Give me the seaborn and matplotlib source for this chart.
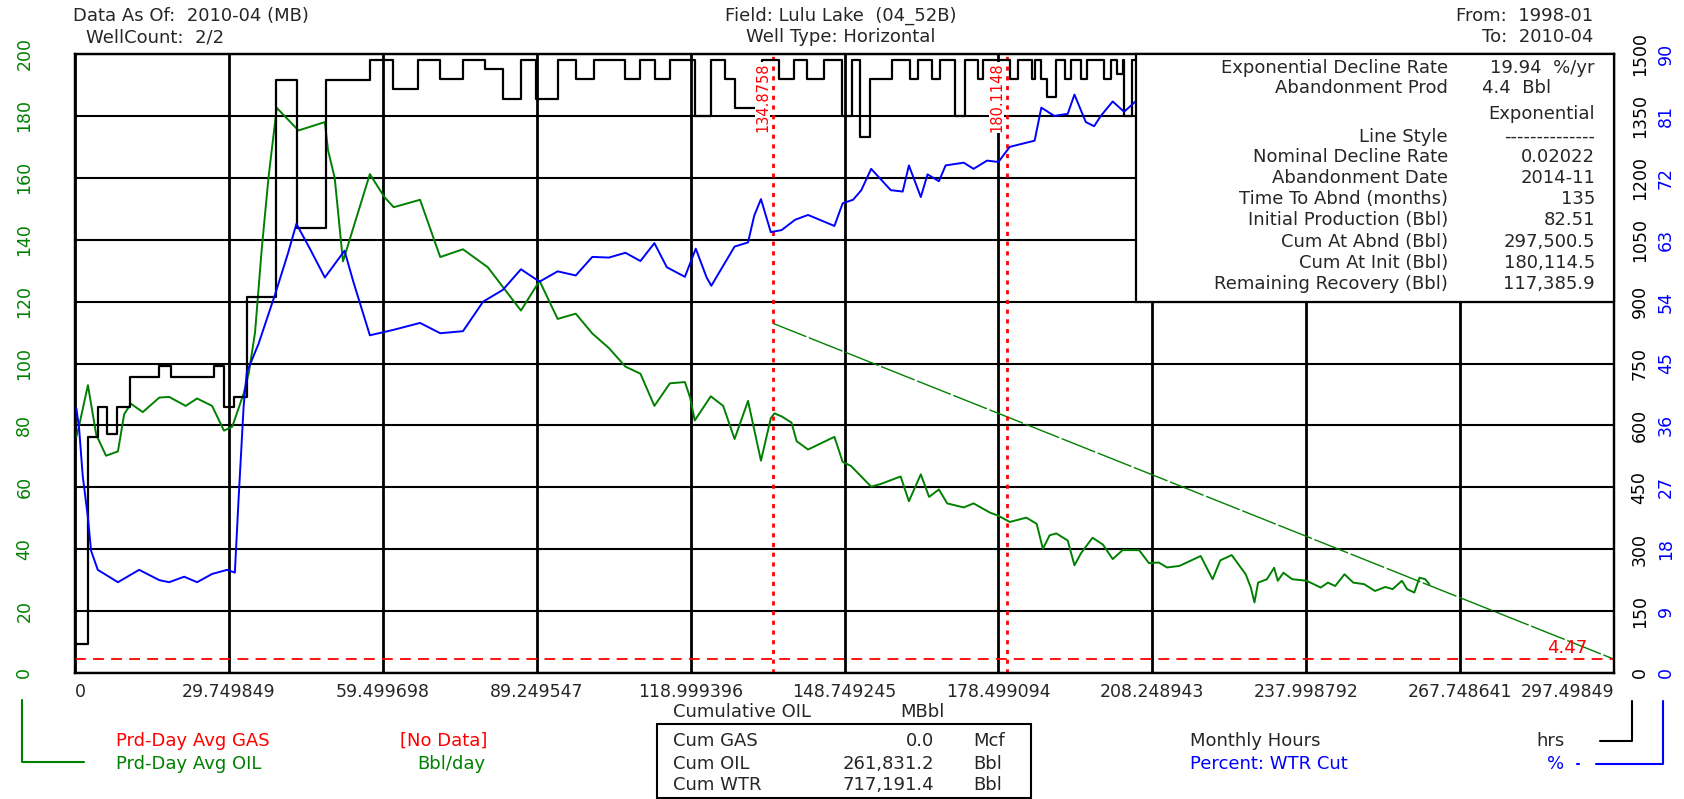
import matplotlib
matplotlib.use("Agg")
import matplotlib.pyplot as plt
import seaborn as sns
from matplotlib.patches import Rectangle
from matplotlib.lines import Line2D

# ---- data ----
oil_cum = [0.26, 0.8, 2.5, 4.1, 6.0, 8.3, 9.5, 10.8, 13.1, 16.3, 18.2, 21.4, 23.6, 26.5,
           28.8, 30.4, 32.6, 33.6, 34.8, 36.1, 37.4, 39.0, 43.2, 48.3, 48.9, 50.2, 51.8,
           57.0, 59.8, 61.6, 66.7, 70.6, 75.0, 79.8, 86.2, 89.8, 93.3, 96.8, 100.0, 103.2,
           106.4, 109.3, 112.0, 115.0, 117.9, 118.9, 119.8, 122.9, 125.3, 127.5, 130.1,
           132.6, 134.5, 135.2, 136.6, 138.5, 139.5, 141.7, 146.8, 148.4, 150.0, 153.9,
           155.8, 159.6, 161.2, 163.5, 165.1, 167.0, 168.6, 171.8, 173.7, 176.9, 178.5,
           180.7, 183.9, 185.9, 187.1, 188.4, 189.7, 191.9, 193.2, 194.5, 196.7, 198.7,
           200.6, 202.5, 205.7, 207.6, 209.5, 211.1, 213.5, 217.6, 219.9, 221.4, 223.6,
           226.3, 227.3, 228.0, 228.7, 230.4, 231.8, 232.5, 233.6, 235.3, 238.1, 240.8,
           242.2, 243.6, 245.4, 247.1, 249.2, 251.3, 253.3, 254.7, 256.5, 257.5, 258.9,
           259.9, 261.0, 261.8]
oil_rate = [76.3, 80.0, 93.0, 77.0, 70.2, 71.6, 83.6, 87.0, 84.3, 89.0, 89.2, 86.3, 88.7, 86.3,
            78.3, 79.6, 90.3, 97.0, 110.0, 137.0, 160.0, 182.6, 175.3, 178.0, 169.0, 160.0, 133.0,
            161.2, 153.8, 150.5, 152.9, 134.4, 136.9, 131.1, 117.1, 126.7, 114.4, 116.1, 109.7, 105.0,
            99.0, 96.7, 86.3, 93.6, 94.0, 89.0, 81.6, 89.4, 86.3, 75.6, 87.9,
            68.6, 82.3, 83.9, 82.9, 80.9, 74.9, 72.2, 76.3, 68.2, 66.9, 60.2,
            61.1, 63.5, 55.5, 64.2, 56.9, 59.3, 54.8, 53.5, 54.8, 51.8, 50.8,
            48.8, 50.2, 48.2, 40.1, 44.5, 45.1, 42.8, 34.8, 38.8, 43.7, 41.5,
            36.8, 39.7, 39.7, 35.5, 35.7, 34.1, 34.6, 37.8, 30.3, 36.4, 38.1,
            31.9, 27.6, 22.8, 29.2, 30.3, 34.0, 29.8, 32.4, 30.3, 29.8, 27.6,
            29.2, 28.1, 31.9, 29.2, 28.7, 26.5, 27.8, 27.1, 29.8, 27.1, 26.0,
            30.8, 30.3, 28.7]

wtr_cum = [0.26, 0.8, 1.5, 2.5, 3.1, 4.4, 8.3, 12.4, 16.3, 18.2, 21.1, 23.6, 26.5, 29.4,
           30.9, 31.6, 32.6, 33.2, 35.5, 38.7, 41.2, 42.8, 45.4, 48.3, 52.1, 53.8, 57.0,
           61.6, 66.7, 70.6, 75.0, 78.9, 82.7, 86.2, 89.8, 93.3, 96.8, 100.0, 103.2, 106.4,
           109.3, 112.0, 114.4, 117.9, 120.0, 122.1, 123.0, 127.5, 130.1, 131.3, 132.6, 134.5,
           136.6, 139.2, 141.7, 146.8, 148.4, 150.4, 152.0, 153.9, 157.7, 160.0, 161.2, 163.5,
           164.8, 167.0, 168.3, 171.8, 173.7, 176.3, 178.5, 180.7, 185.5, 186.8, 189.3, 191.9,
           193.2, 195.4, 197.0, 198.3, 200.6, 202.8, 205.0]
wtr_pct = [38.5, 35.5, 28.6, 22.6, 17.8, 15.0, 13.2, 15.0, 13.5, 13.2, 14.0, 13.2, 14.4, 15.0,
           14.6, 25.0, 38.8, 43.7, 47.9, 55.1, 61.1, 65.3, 61.7, 57.5, 61.4, 56.9, 49.1,
           49.9, 50.9, 49.4, 49.7, 54.0, 55.7, 58.7, 56.9, 58.4, 57.8, 60.5, 60.4, 61.1,
           59.9, 62.5, 59.0, 57.6, 61.7, 57.5, 56.3, 62.0, 62.6, 66.5, 68.9, 64.1,
           64.4, 65.9, 66.6, 65.0, 68.3, 68.8, 70.2, 73.3, 70.2, 70.0, 73.8, 69.2,
           72.5, 71.5, 73.8, 74.2, 73.3, 74.5, 74.3, 76.5, 77.4, 82.2, 81.0, 81.3,
           84.1, 80.1, 79.5, 81.0, 83.1, 81.6, 83.1]

hrs_cum = [0.0, 2.5, 4.4, 6.15, 8.07, 10.6, 16.3, 18.5, 26.8, 28.8, 30.7, 33.2, 38.9, 43.0,
           48.6, 57.0, 61.4, 66.4, 70.6, 75.0, 79.2, 82.7, 86.2, 89.1, 93.3, 96.8, 100.3,
           106.4, 109.3, 112.1, 115.0, 119.8, 123.0, 125.6, 127.5, 132.8, 136.0, 138.9,
           141.5, 144.7, 148.2, 150.2, 151.8, 153.7, 157.9, 161.4, 163.0, 165.6, 167.2,
           170.1, 172.0, 174.6, 175.6, 180.7, 182.3, 184.9, 185.5, 186.8, 187.8, 189.7,
           191.3, 192.6, 194.5, 195.6, 199.0, 200.3, 201.5, 202.5, 202.8, 204.4, 205.3]
hrs_val = [70, 572, 645, 578, 645, 718, 743, 718, 743, 645, 669, 910, 1438, 1079,
           1438, 1485, 1415, 1485, 1440, 1485, 1463, 1391, 1485, 1391, 1485, 1440, 1485,
           1440, 1485, 1440, 1485, 1350, 1485, 1440, 1370, 1485, 1440, 1485,
           1440, 1485, 1350, 1485, 1298, 1440, 1485, 1440, 1485, 1440, 1485,
           1350, 1485, 1440, 1485, 1440, 1485, 1440, 1485, 1440, 1395, 1485,
           1440, 1485, 1440, 1485, 1440, 1485, 1451, 1485, 1350, 1485, 1485]

fc_cum = [134.8758, 297.49849]
fc_rate = [113.0, 4.47]
abnd_rate = 4.47
marker_cum = [134.8758, 180.1148]
marker_labels = ["134.8758", "180.1148"]

x_ticks = [0, 29.749849, 59.499698, 89.249547, 118.999396, 148.749245, 178.499094,
           208.248943, 237.998792, 267.748641, 297.49849]
x_labels = ["0", "29.749849", "59.499698", "89.249547", "118.999396", "148.749245",
            "178.499094", "208.248943", "237.998792", "267.748641", "297.49849"]
rate_ticks = [0, 20, 40, 60, 80, 100, 120, 140, 160, 180, 200]
hrs_ticks = [0, 150, 300, 450, 600, 750, 900, 1050, 1200, 1350, 1500]
pct_ticks = [0, 9, 18, 27, 36, 45, 54, 63, 72, 81, 90]

table_labels = ["Exponential Decline Rate", "Abandonment Prod", "", "Line Style",
                "Nominal Decline Rate", "Abandonment Date", "Time To Abnd (months)",
                "Initial Production (Bbl)", "Cum At Abnd (Bbl)", "Cum At Init (Bbl)",
                "Remaining Recovery (Bbl)"]
table_values = ["19.94  %/yr", "4.4  Bbl", "Exponential", "--------------", "0.02022",
                "2014-11", "135", "82.51", "297,500.5", "180,114.5", "117,385.9"]

cum_names = ["Cum GAS", "Cum OIL", "Cum WTR"]
cum_values = ["0.0", "261,831.2", "717,191.4"]
cum_units = ["Mcf", "Bbl", "Bbl"]

GREEN = "#008000"
BLUE = "#0000ff"
RED = "#ff0000"
FS = 13
TFS = 12.5

sns.set_style("white")
plt.rcParams["font.family"] = ["DejaVu Sans"]

W, H = 1684, 799


def fx(px):
    return px / W


def fy(py):
    return 1 - py / H


fig = plt.figure(figsize=(W / 100, H / 100), dpi=100)
ax = fig.add_axes([fx(75), fy(673), fx(1614) - fx(75), fy(54) - fy(673)])
ax_h = ax.twinx()
ax_p = ax.twinx()

# oil rate + forecast
sns.lineplot(x=oil_cum, y=oil_rate, ax=ax, color=GREEN, lw=1.4, sort=False, estimator=None)
sns.lineplot(x=fc_cum, y=fc_rate, ax=ax, color=GREEN, lw=1.0, sort=False, estimator=None,
             linestyle=(0, (26, 2)))
ax.axhline(abnd_rate, color=RED, lw=1.3, ls=(0, (6, 4)), zorder=3)
for c in marker_cum:
    ax.axvline(c, color=RED, lw=2, ls=(0, (1.5, 2)), zorder=3)

# monthly hours (step) and water cut
sns.lineplot(x=hrs_cum, y=hrs_val, ax=ax_h, color="black", lw=1.6, sort=False,
             estimator=None, drawstyle="steps-post")
sns.lineplot(x=wtr_cum, y=wtr_pct, ax=ax_p, color=BLUE, lw=1.4, sort=False, estimator=None)

for c, lab in zip(marker_cum, marker_labels):
    ax_p.annotate(lab, xy=(c, 0.93), xycoords=("data", "axes fraction"),
                  xytext=(-2, 0), textcoords="offset points", rotation=90,
                  ha="right", va="center", color=RED, fontsize=10.5, zorder=6,
                  bbox=dict(facecolor="white", edgecolor="none", pad=0.3))

ax.annotate(f"{abnd_rate:.2f}", xy=(x_ticks[-1], abnd_rate), xytext=(-19, 8),
            textcoords="offset points", ha="right", va="center", color=RED, fontsize=FS)

# axes, grid, ticks
ax.set_xlim(0, x_ticks[-1])
ax.set_ylim(0, 200)
ax_h.set_ylim(0, 1500)
ax_p.set_ylim(0, 90)
ax.set_xticks(x_ticks)
ax.set_xticklabels(x_labels, fontsize=TFS)
xl = ax.get_xticklabels()
xl[0].set_ha("left")
xl[-1].set_ha("right")
ax.set_yticks(rate_ticks)
ax.set_yticklabels([str(v) for v in rate_ticks], fontsize=TFS, color=GREEN,
                   rotation=90, va="center")
ax.xaxis.grid(True, color="black", lw=2.0)
ax.yaxis.grid(True, color="black", lw=1.5)
ax.set_axisbelow(True)
ax.tick_params(axis="x", length=0, pad=7)
ax.tick_params(axis="y", length=0, pad=30)
ax.set_xlabel("")
ax.set_ylabel("")

ax_h.set_yticks(hrs_ticks)
ax_h.set_yticklabels([str(v) for v in hrs_ticks], fontsize=TFS, color="black",
                     rotation=90, va="center")
ax_h.tick_params(axis="y", length=0, pad=12)
ax_h.set_ylabel("")
ax_p.set_yticks(pct_ticks)
ax_p.set_yticklabels([str(v) for v in pct_ticks], fontsize=TFS, color=BLUE,
                     rotation=90, va="center")
ax_p.tick_params(axis="y", length=0, pad=31)
ax_p.set_ylabel("")
for s in ax_p.spines.values():
    s.set_visible(False)
for a in (ax, ax_h):
    for s in a.spines.values():
        s.set_color("black")
        s.set_linewidth(1.6)

# parameter box (covers the grid in the upper right)
ax_p.add_patch(Rectangle((0.6894, 0.6), 0.3106, 0.4, transform=ax_p.transAxes,
                         facecolor="white", edgecolor="black", lw=1.6, zorder=10,
                         clip_on=False))
row_y = [68, 88, 114, 137, 157, 178, 199, 220, 242, 263, 284]
val_x = [1595, 1551, 1595, 1595, 1595, 1595, 1595, 1595, 1595, 1595, 1595]
for lab, val, y, vx in zip(table_labels, table_values, row_y, val_x):
    fig.text(fx(1448), fy(y), lab, ha="right", va="center", fontsize=FS)
    fig.text(fx(vx), fy(y), val, ha="right", va="center", fontsize=FS)

# header
fig.text(fx(73), fy(16), "Data As Of:  2010-04 (MB)", ha="left", va="center", fontsize=FS)
fig.text(fx(86), fy(37), "WellCount:  2/2", ha="left", va="center", fontsize=FS)
fig.text(fx(841), fy(16), "Field: Lulu Lake  (04_52B)", ha="center", va="center", fontsize=FS)
fig.text(fx(841), fy(37), "Well Type: Horizontal", ha="center", va="center", fontsize=FS)
fig.text(fx(1593), fy(16), "From:  1998-01", ha="right", va="center", fontsize=FS)
fig.text(fx(1593), fy(37), "To:  2010-04", ha="right", va="center", fontsize=FS)

# x axis title
fig.text(fx(673), fy(712), "Cumulative OIL", ha="left", va="center", fontsize=FS)
fig.text(fx(900), fy(712), "MBbl", ha="left", va="center", fontsize=FS)

# legends
fig.text(fx(116), fy(741), "Prd-Day Avg GAS", color=RED, ha="left", va="center", fontsize=FS)
fig.text(fx(400), fy(741), "[No Data]", color=RED, ha="left", va="center", fontsize=FS)
fig.text(fx(116), fy(764), "Prd-Day Avg OIL", color=GREEN, ha="left", va="center", fontsize=FS)
fig.text(fx(417), fy(764), "Bbl/day", color=GREEN, ha="left", va="center", fontsize=FS)
fig.add_artist(Line2D([fx(21.5), fx(21.5), fx(84)], [fy(700), fy(762), fy(762)],
                      color=GREEN, lw=1.5, transform=fig.transFigure))

fig.text(fx(1190), fy(741), "Monthly Hours", ha="left", va="center", fontsize=FS)
fig.text(fx(1536), fy(741), "hrs", ha="left", va="center", fontsize=FS)
fig.text(fx(1190), fy(764), "Percent: WTR Cut", color=BLUE, ha="left", va="center", fontsize=FS)
fig.text(fx(1547), fy(764), "%", color=BLUE, ha="left", va="center", fontsize=FS)
fig.add_artist(Line2D([fx(1600), fx(1632), fx(1632)], [fy(741), fy(741), fy(701)],
                      color="black", lw=1.5, transform=fig.transFigure))
fig.add_artist(Line2D([fx(1577), fx(1579)], [fy(764), fy(764)],
                      color=BLUE, lw=1.5, transform=fig.transFigure))
fig.add_artist(Line2D([fx(1596), fx(1663), fx(1663)], [fy(764), fy(764), fy(701)],
                      color=BLUE, lw=1.5, transform=fig.transFigure))

# cumulative box
fig.add_artist(Rectangle((fx(657), fy(798)), fx(1031) - fx(657), fy(724) - fy(798),
                         transform=fig.transFigure, facecolor="white", edgecolor="black",
                         lw=1.5))
for name, val, unit, y in zip(cum_names, cum_values, cum_units, [741, 764, 785]):
    fig.text(fx(673), fy(y), name, ha="left", va="center", fontsize=FS)
    fig.text(fx(934), fy(y), val, ha="right", va="center", fontsize=FS)
    fig.text(fx(973), fy(y), unit, ha="left", va="center", fontsize=FS)

fig.savefig("out.png", dpi=100)
